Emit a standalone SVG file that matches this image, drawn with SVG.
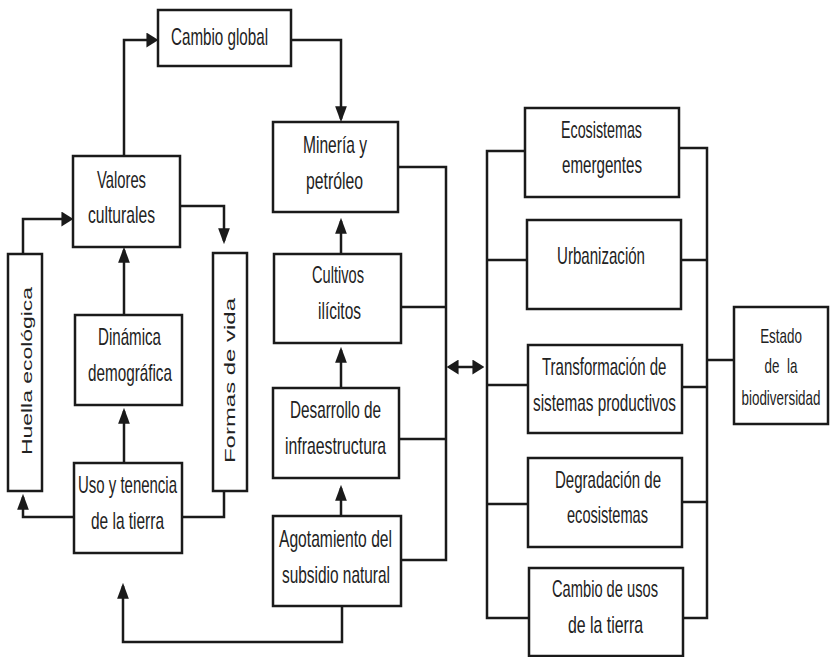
<svg xmlns="http://www.w3.org/2000/svg" width="833" height="657" viewBox="0 0 833 657">
<style>
.box{fill:#fff;stroke:#1a1a1a;stroke-width:2.5}
.t{font-family:"Liberation Sans",Arial,sans-serif;font-size:24px;fill:#222}
.s{font-family:"Liberation Sans",Arial,sans-serif;font-size:20px;fill:#222;text-anchor:middle;white-space:pre}
.v{font-family:"Liberation Sans",Arial,sans-serif;font-size:14.5px;fill:#222}
.c{fill:none;stroke:#1a1a1a;stroke-width:2.5}
</style>
<defs>
<marker id="aV" markerUnits="userSpaceOnUse" markerWidth="16" markerHeight="12" viewBox="0 0 15 11" refX="12" refY="5.5" orient="auto"><path d="M0,0 L15,5.5 L0,11 z" fill="#1a1a1a"/></marker>
<marker id="aH" markerUnits="userSpaceOnUse" markerWidth="12" markerHeight="15" viewBox="0 0 11 14" refX="8" refY="7" orient="auto"><path d="M0,0 L11,7 L0,14 z" fill="#1a1a1a"/></marker>
<marker id="aD" markerUnits="userSpaceOnUse" markerWidth="12" markerHeight="15" viewBox="0 0 11 14" refX="8" refY="7" orient="auto-start-reverse"><path d="M0,0 L11,7 L0,14 z" fill="#1a1a1a"/></marker>
</defs>
<rect width="833" height="657" fill="#fff"/>
<g id="connectors">
<path class="c" d="M124,156 V40 H155" marker-end="url(#aH)"/>
<path class="c" d="M291,40 H341 V119" marker-end="url(#aV)"/>
<path class="c" d="M180,206 H224 V241" marker-end="url(#aV)"/>
<path class="c" d="M23,254 V219 H70" marker-end="url(#aH)"/>
<path class="c" d="M124,315 V250" marker-end="url(#aV)"/>
<path class="c" d="M124,463 V411" marker-end="url(#aV)"/>
<path class="c" d="M74,517 H23 V497" marker-end="url(#aV)"/>
<path class="c" d="M182,517 H224 V491"/>
<path class="c" d="M341,254 V221" marker-end="url(#aV)"/>
<path class="c" d="M341,388 V350" marker-end="url(#aV)"/>
<path class="c" d="M341,516 V488" marker-end="url(#aV)"/>
<path class="c" d="M342,606 V642 H123 V586" marker-end="url(#aV)"/>
<path class="c" d="M398,167 H446 V560 H401 M401,307 H446 M399,439 H446"/>
<path class="c" d="M450,367 H481" marker-start="url(#aD)" marker-end="url(#aD)"/>
<path class="c" d="M525,151 H487 V618 H529 M487,260 H527 M487,385 H528 M487,504 H528"/>
<path class="c" d="M679,148 H707 V618 H683 M681,260 H707 M682,387 H707 M682,502 H707 M707,360 H734"/>
</g>
<g id="cambio-global"><rect class="box" x="158" y="10" width="133" height="56"/><text class="t" x="171" y="45" textLength="97" lengthAdjust="spacingAndGlyphs">Cambio global</text></g>
<g id="valores-culturales"><rect class="box" x="73" y="156" width="107" height="91"/><text class="t" x="97" y="188" textLength="49" lengthAdjust="spacingAndGlyphs">Valores</text><text class="t" x="88" y="223" textLength="67" lengthAdjust="spacingAndGlyphs">culturales</text></g>
<g id="huella-ecologica"><rect class="box" x="8" y="254" width="34" height="237"/><text class="v" transform="translate(32,455) rotate(-90)" textLength="168" lengthAdjust="spacingAndGlyphs">Huella ecológica</text></g>
<g id="formas-de-vida"><rect class="box" x="213" y="253" width="34" height="238"/><text class="v" transform="translate(235,463) rotate(-90)" textLength="165" lengthAdjust="spacingAndGlyphs">Formas de vida</text></g>
<g id="dinamica-demografica"><rect class="box" x="75" y="315" width="107" height="90"/><text class="t" x="98" y="345" textLength="63" lengthAdjust="spacingAndGlyphs">Dinámica</text><text class="t" x="88" y="381" textLength="84" lengthAdjust="spacingAndGlyphs">demográfica</text></g>
<g id="uso-tenencia"><rect class="box" x="74" y="463" width="108" height="90"/><text class="t" x="78" y="493" textLength="99" lengthAdjust="spacingAndGlyphs">Uso y tenencia</text><text class="t" x="91" y="529" textLength="73" lengthAdjust="spacingAndGlyphs">de la tierra</text></g>
<g id="mineria-petroleo"><rect class="box" x="273" y="122" width="125" height="90"/><text class="t" x="303" y="153" textLength="64" lengthAdjust="spacingAndGlyphs">Minería y</text><text class="t" x="306" y="189" textLength="57" lengthAdjust="spacingAndGlyphs">petróleo</text></g>
<g id="cultivos-ilicitos"><rect class="box" x="274" y="254" width="127" height="89"/><text class="t" x="312" y="283" textLength="52" lengthAdjust="spacingAndGlyphs">Cultivos</text><text class="t" x="318" y="319" textLength="43" lengthAdjust="spacingAndGlyphs">ilícitos</text></g>
<g id="desarrollo-infraestructura"><rect class="box" x="273" y="388" width="126" height="90"/><text class="t" x="290" y="418" textLength="91" lengthAdjust="spacingAndGlyphs">Desarrollo de</text><text class="t" x="285" y="454" textLength="101" lengthAdjust="spacingAndGlyphs">infraestructura</text></g>
<g id="agotamiento-subsidio"><rect class="box" x="273" y="516" width="128" height="90"/><text class="t" x="279" y="547" textLength="113" lengthAdjust="spacingAndGlyphs">Agotamiento del</text><text class="t" x="282" y="583" textLength="108" lengthAdjust="spacingAndGlyphs">subsidio natural</text></g>
<g id="ecosistemas-emergentes"><rect class="box" x="525" y="108" width="154" height="89"/><text class="t" x="561" y="138" textLength="81" lengthAdjust="spacingAndGlyphs">Ecosistemas</text><text class="t" x="562" y="173" textLength="80" lengthAdjust="spacingAndGlyphs">emergentes</text></g>
<g id="urbanizacion"><rect class="box" x="527" y="220" width="154" height="89"/><text class="t" x="557" y="264" textLength="88" lengthAdjust="spacingAndGlyphs">Urbanización</text></g>
<g id="transformacion"><rect class="box" x="528" y="345" width="154" height="88"/><text class="t" transform="translate(542,375) scale(0.625,1)">Transformación de</text><text class="t" transform="translate(533,411) scale(0.638,1)">sistemas productivos</text></g>
<g id="degradacion"><rect class="box" x="528" y="458" width="154" height="89"/><text class="t" x="555" y="488" textLength="106" lengthAdjust="spacingAndGlyphs">Degradación de</text><text class="t" x="567" y="523" textLength="81" lengthAdjust="spacingAndGlyphs">ecosistemas</text></g>
<g id="cambio-usos"><rect class="box" x="529" y="568" width="154" height="88"/><text class="t" x="552" y="597" textLength="106" lengthAdjust="spacingAndGlyphs">Cambio de usos</text><text class="t" x="568" y="633" textLength="75" lengthAdjust="spacingAndGlyphs">de la tierra</text></g>
<g id="estado-biodiversidad"><rect class="box" x="734" y="307" width="94" height="117"/><text class="s" transform="translate(781,343) scale(0.67,1)">Estado</text><text class="s" transform="translate(781,373) scale(0.67,1)">de  la</text><text class="s" transform="translate(781,405) scale(0.67,1)">biodiversidad</text></g>
</svg>
